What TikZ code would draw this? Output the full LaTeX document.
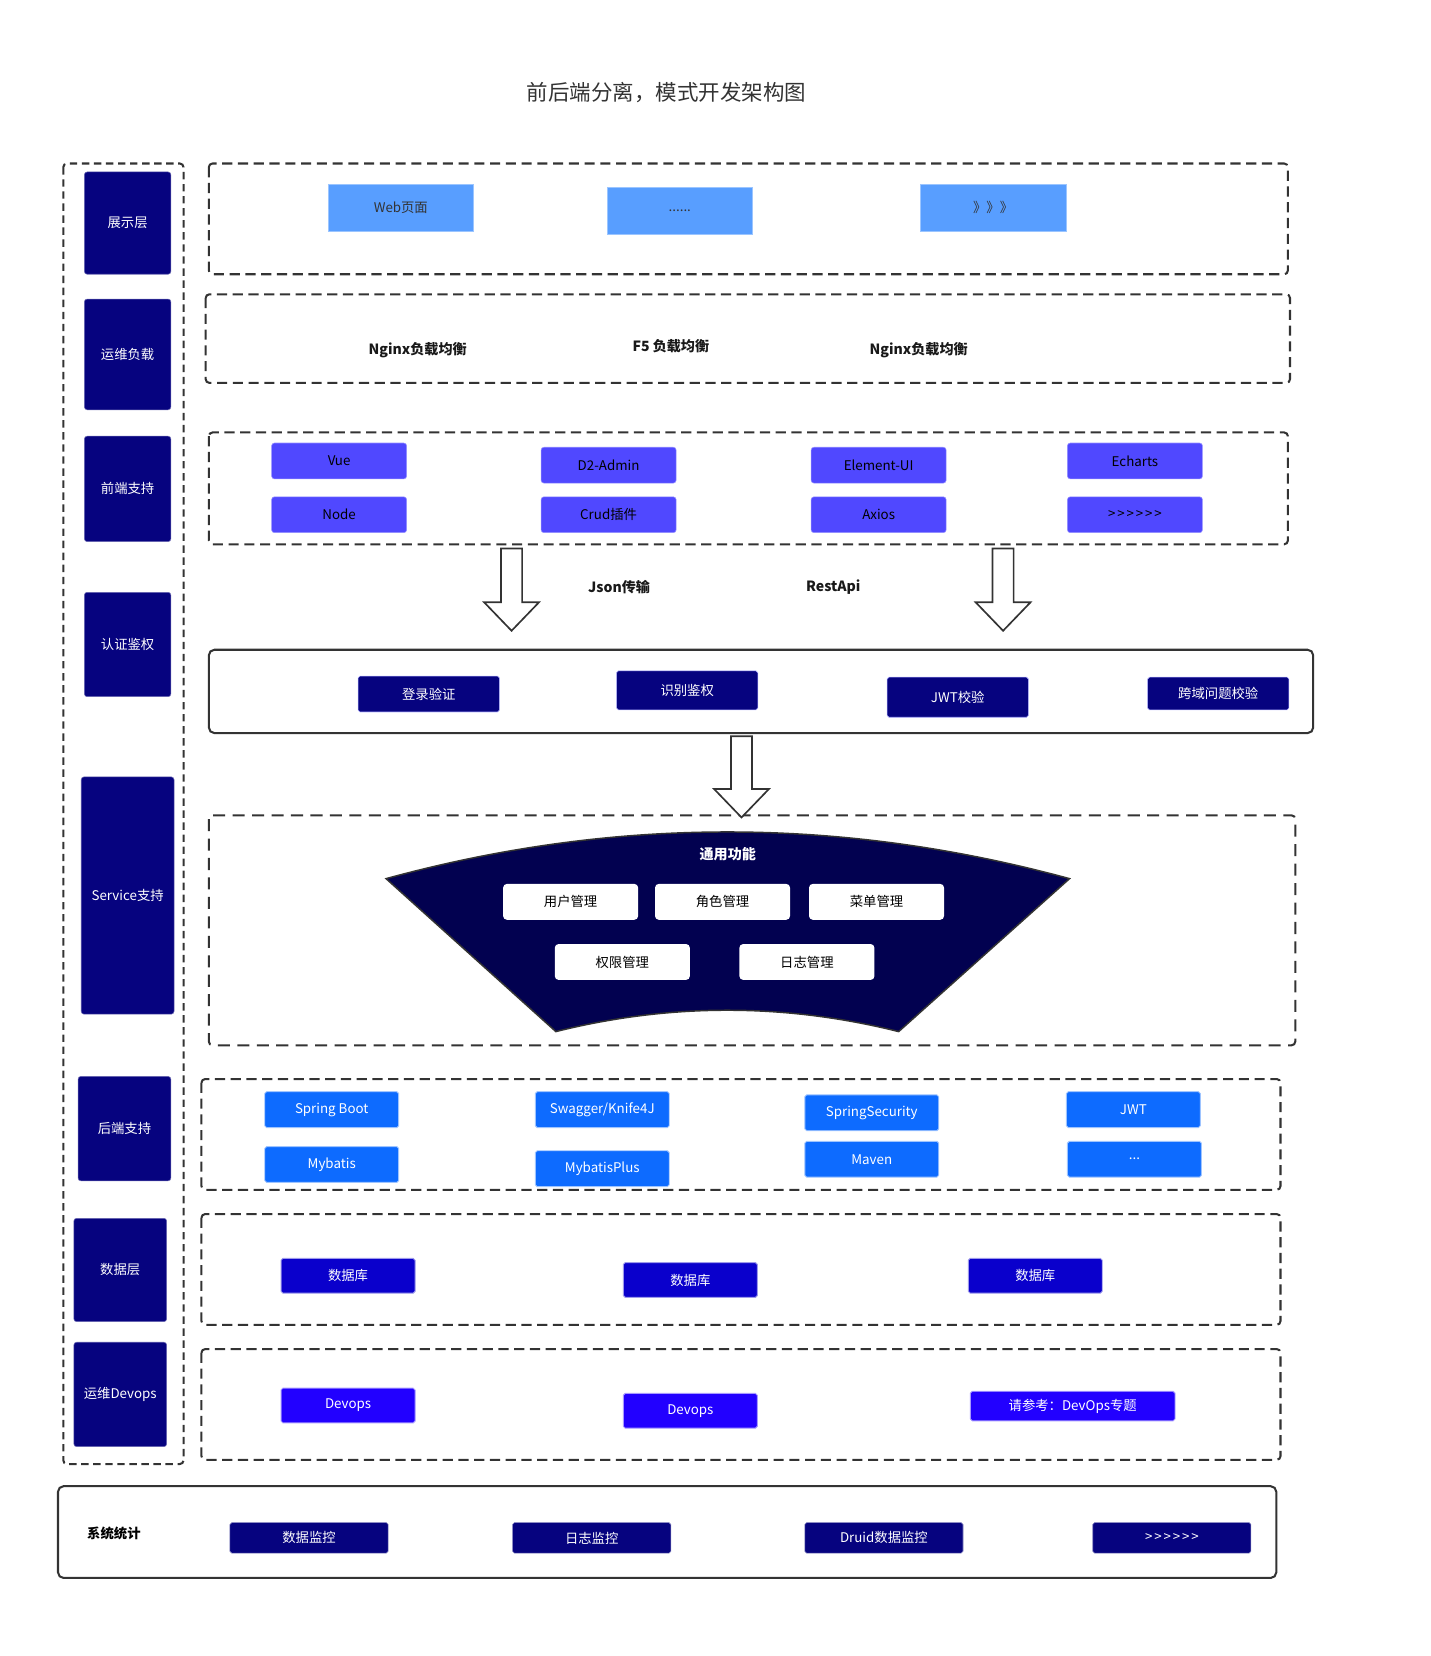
\documentclass[tikz,border=0pt]{standalone}
\usepackage{fontspec}
\setmainfont{Noto Sans CJK SC}
\usetikzlibrary{shapes.geometric}

\definecolor{navy}{HTML}{06037F}
\definecolor{skyblue}{HTML}{589EFF}
\definecolor{fronthue}{HTML}{5048FF}
\definecolor{fanblue}{HTML}{020150}
\definecolor{backblue}{HTML}{0D6BFF}
\definecolor{dbblue}{HTML}{0A00CC}
\definecolor{opsblue}{HTML}{2200FF}
\definecolor{linegray}{HTML}{333333}

% big hollow arrow: x, top y, tip y
\newcommand{\hollowarrow}[3]{%
  \draw[hollow] ({#1-10},#2) -- ({#1+10},#2) -- ({#1+10},{#3-27}) -- ({#1+26},{#3-27})
    -- (#1,#3) -- ({#1-26},{#3-27}) -- ({#1-10},{#3-27}) -- cycle;}
% six > signs, kept apart so they do not turn into guillemets
\newcommand{\moresigns}{>\kern1pt>\kern1pt>\kern1pt>\kern1pt>\kern1pt>}

\begin{document}
\begin{tikzpicture}[x=0.02cm,y=-0.02cm,
  font=\fontsize{7.2}{8.6}\selectfont,
  every node/.style={inner sep=0pt},
  lbl/.style={fill=navy,text=white,draw=navy!60!white,line width=0.3pt,rounded corners=1.5pt,minimum width=1.64cm},
  web/.style={fill=skyblue,text=black!80,draw=skyblue!60!white,line width=0.3pt,minimum width=2.76cm,minimum height=0.88cm},
  fe/.style={fill=fronthue,text=black,draw=fronthue!60!white,line width=0.3pt,rounded corners=1.5pt,minimum width=2.56cm,minimum height=0.68cm},
  auth/.style={fill=navy,text=white,draw=blue!30,line width=0.3pt,rounded corners=1pt,minimum width=2.68cm},
  func/.style={fill=white,text=black,rounded corners=2pt,minimum width=2.56cm,minimum height=0.68cm},
  be/.style={fill=backblue,text=white,draw=backblue!40!white,line width=0.5pt,rounded corners=1pt,minimum width=2.54cm,minimum height=0.68cm},
  db/.style={fill=dbblue,text=white,draw=dbblue!40!white,line width=0.5pt,rounded corners=1pt,minimum width=2.54cm,minimum height=0.66cm},
  ops/.style={fill=opsblue,text=white,draw=opsblue!40!white,line width=0.5pt,rounded corners=1pt,minimum width=2.54cm,minimum height=0.66cm},
  mon/.style={fill=navy,text=white,draw=navy!50!white,line width=0.3pt,rounded corners=1pt,minimum width=3cm,minimum height=0.58cm},
  dashbox/.style={draw=linegray,line width=1.1pt,dash pattern=on 5.5pt off 3pt,rounded corners=2pt},
  leftbox/.style={draw=linegray,line width=1.1pt,dash pattern=on 4pt off 2.5pt,rounded corners=2pt},
  solidbox/.style={draw=linegray,line width=1.1pt,rounded corners=3pt},
  hollow/.style={draw=linegray,fill=white,line width=0.9pt},
  tag/.style={font=\bfseries\fontsize{7.6}{9}\selectfont,text=black!90}]

  \useasboundingbox (0,0) rectangle (1356,1570);

  \node (title) at (632,88) [font=\fontsize{11.6}{14}\selectfont,text=black!80] {前后端分离，模式开发架构图};

  % containers
  \draw[leftbox] (60,155) rectangle (174,1388);
  \draw[dashbox] (198,155) rectangle (1221,260);
  \draw[dashbox] (195,279) rectangle (1223,363);
  \draw[dashbox] (198,410) rectangle (1221,516);
  \draw[solidbox] (198,616) rectangle (1245,695);
  \draw[dashbox,dash pattern=on 6.5pt off 4pt] (198,773) rectangle (1228,991);
  \draw[dashbox] (191,1023) rectangle (1214,1128);
  \draw[dashbox] (191,1151) rectangle (1214,1256);
  \draw[dashbox] (191,1279) rectangle (1214,1384);
  \draw[solidbox] (55,1409) rectangle (1210,1496);

  % layer labels
  \node (show)    at (121,211.5)  [lbl,minimum height=1.94cm] {展示层};
  \node (ops)     at (121,336)    [lbl,minimum height=2.1cm] {运维负载};
  \node (front)   at (121,463.5)  [lbl,minimum height=2cm] {前端支持};
  \node (authl)   at (121,611)    [lbl,minimum height=1.98cm] {认证鉴权};
  \node (service) at (121,849)    [lbl,minimum width=1.76cm,minimum height=4.5cm] {Service支持};
  \node (back)    at (118,1070)   [lbl,minimum width=1.76cm,minimum height=1.98cm] {后端支持};
  \node (data)    at (114,1204)   [lbl,minimum width=1.76cm,minimum height=1.96cm] {数据层};
  \node (devops)  at (114,1322)   [lbl,minimum width=1.76cm,minimum height=1.98cm] {运维Devops};

  % presentation
  \node (webpage) at (380,197)   [web] {Web页面};
  \node (webmore) at (644.5,200) [web] {......};
  \node (webnext) at (941.5,197) [web] {》》》};

  % load balancing
  \node (nginxa) at (396,332) [tag] {Nginx负载均衡};
  \node (ffive)  at (636,328) [tag] {F5 负载均衡};
  \node (nginxb) at (871,332) [tag] {Nginx负载均衡};

  % front end
  \node (vue)     at (321.5,437) [fe] {Vue};
  \node (node)    at (321.5,488) [fe] {Node};
  \node (dtwo)    at (577,441)   [fe] {D2-Admin};
  \node (crud)    at (577,488)   [fe] {Crud插件};
  \node (element) at (833,441)   [fe] {Element-UI};
  \node (axios)   at (833,488)   [fe] {Axios};
  \node (echarts) at (1076,437)  [fe] {Echarts};
  \node (femore)  at (1076,488)  [fe] {\moresigns};

  \hollowarrow{485}{520}{598}
  \hollowarrow{951}{520}{598}
  \node (json) at (587,557) [tag] {Json传输};
  \node (rest) at (790,557) [tag] {RestApi};

  % auth
  \node (login) at (406.5,658)  [auth,minimum height=0.68cm] {登录验证};
  \node (ident) at (651.5,654.5) [auth,minimum height=0.74cm] {识别鉴权};
  \node (jwtc)  at (908,661)    [auth,minimum height=0.76cm] {JWT校验};
  \node (cross) at (1155,657.5) [auth,minimum height=0.62cm] {跨域问题校验};

  \hollowarrow{703}{698}{775}

  % common functions
  \fill[fanblue,draw=linegray,line width=0.8pt] (366,833) .. controls (582,774) and (797,774) .. (1014,833)
    -- (852,978) .. controls (744,951) and (635,951) .. (527,978) -- cycle;
  \node (common) at (690,810) [font=\bfseries\fontsize{7.6}{9}\selectfont,text=white] {通用功能};
  \node (user) at (541,855) [func] {用户管理};
  \node (role) at (685,855) [func] {角色管理};
  \node (menu) at (831,855) [func] {菜单管理};
  \node (perm) at (590,912) [func] {权限管理};
  \node (logm) at (765,912) [func] {日志管理};

  % back end
  \node (boot)    at (314.5,1052) [be] {Spring Boot};
  \node (mybatis) at (314.5,1104) [be] {Mybatis};
  \node (swagger) at (571,1052)   [be] {Swagger/Knife4J};
  \node (plus)    at (571,1108)   [be] {MybatisPlus};
  \node (secur)   at (826.5,1055) [be] {SpringSecurity};
  \node (maven)   at (826.5,1099) [be] {Maven};
  \node (jwt)     at (1074.5,1052) [be] {JWT};
  \node (bemore)  at (1075.5,1099) [be] {...};

  % data
  \node (dba) at (330,1209.5)   [db] {数据库};
  \node (dbb) at (654.5,1213.5) [db] {数据库};
  \node (dbc) at (981.5,1209.5) [db] {数据库};

  % devops
  \node (opsa) at (330,1332.5)   [ops] {Devops};
  \node (opsb) at (654.5,1337.5) [ops] {Devops};
  \node (opsc) at (1017,1333)    [ops,minimum width=3.88cm,minimum height=0.56cm] {请参考：DevOps专题};

  % statistics
  \node (stat)  at (108,1454) [font=\bfseries\fontsize{7.2}{8.6}\selectfont] {系统统计};
  \node (mdata) at (293,1458)  [mon] {数据监控};
  \node (mlog)  at (561,1458)  [mon] {日志监控};
  \node (druid) at (838,1458)  [mon] {Druid数据监控};
  \node (mmore) at (1111,1458) [mon] {\moresigns};

\end{tikzpicture}
\end{document}
